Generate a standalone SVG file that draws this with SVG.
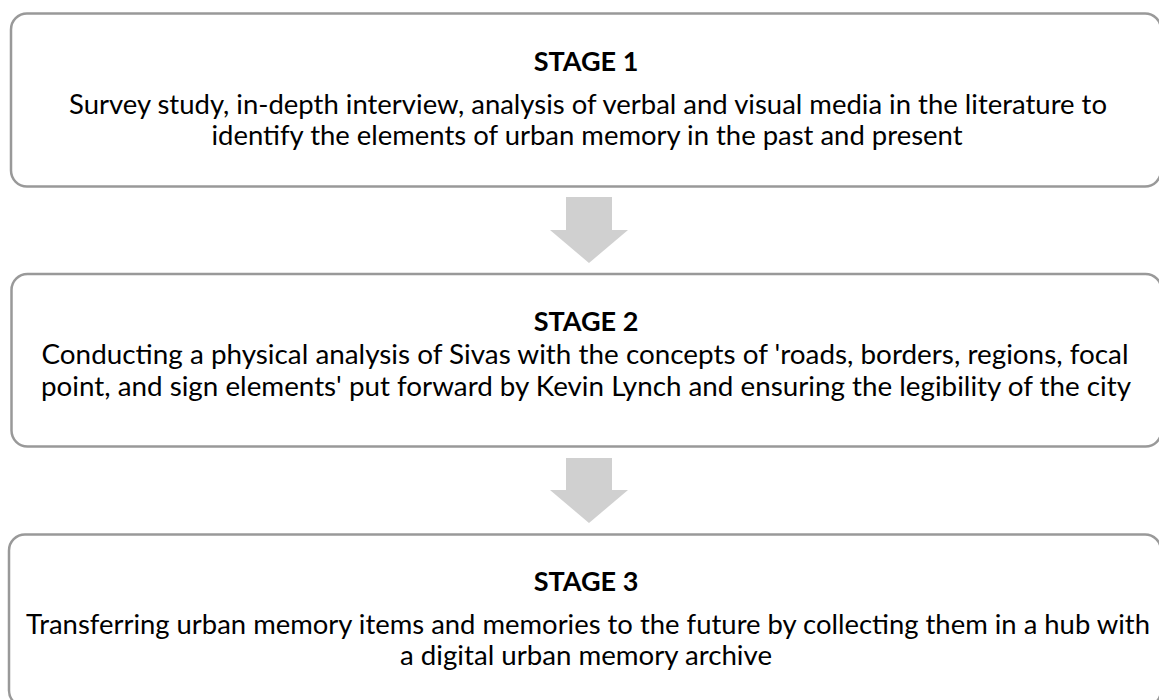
<svg xmlns="http://www.w3.org/2000/svg" width="1159" height="700" viewBox="0 0 1159 700">
  <style>
    .box { fill: #ffffff; stroke: #999999; stroke-width: 2.5; }
    .arrow { fill: #d0d0d0; stroke: none; }
    .title { font-family: Lato, "Open Sans", "Liberation Sans", sans-serif; font-size: 27px; font-weight: bold; fill: #000000; text-anchor: middle; }
    .body { font-family: Lato, "Open Sans", "Liberation Sans", sans-serif; font-size: 27px; fill: #000000; text-anchor: middle; }
  </style>
  <rect width="1159" height="700" fill="#ffffff"/>
  <g id="stage1">
    <rect class="box" x="11" y="13.5" width="1150" height="173" rx="16" ry="16"/>
    <text class="title" x="586" y="71">STAGE 1</text>
    <text class="body" x="588" y="114" textLength="1038" lengthAdjust="spacingAndGlyphs">Survey study, in-depth interview, analysis of verbal and visual media in the literature to</text>
    <text class="body" x="587" y="145" textLength="751" lengthAdjust="spacingAndGlyphs">identify the elements of urban memory in the past and present</text>
  </g>
  <g id="stage2">
    <rect class="box" x="11.5" y="274" width="1150" height="172.5" rx="16" ry="16"/>
    <text class="title" x="586" y="331">STAGE 2</text>
    <text class="body" x="585" y="364" textLength="1087" lengthAdjust="spacingAndGlyphs">Conducting a physical analysis of Sivas with the concepts of 'roads, borders, regions, focal</text>
    <text class="body" x="586" y="396" textLength="1090" lengthAdjust="spacingAndGlyphs">point, and sign elements' put forward by Kevin Lynch and ensuring the legibility of the city</text>
  </g>
  <g id="stage3">
    <rect class="box" x="9" y="534.5" width="1152" height="172" rx="16" ry="16"/>
    <text class="title" x="586" y="591">STAGE 3</text>
    <text class="body" x="588" y="634" textLength="1124" lengthAdjust="spacingAndGlyphs">Transferring urban memory items and memories to the future by collecting them in a hub with</text>
    <text class="body" x="586" y="665" textLength="372" lengthAdjust="spacingAndGlyphs">a digital urban memory archive</text>
  </g>
  <g id="connectors">
    <polygon class="arrow" points="566,197 612,197 612,230 628,230 589,263 550,230 566,230"/>
    <polygon class="arrow" points="566,458 612,458 612,490 628,490 589,523 550,490 566,490"/>
  </g>
</svg>
